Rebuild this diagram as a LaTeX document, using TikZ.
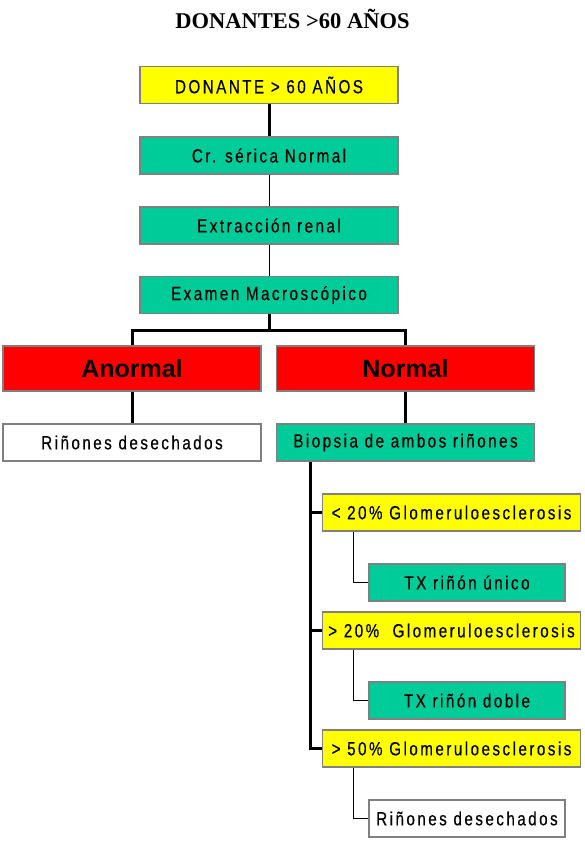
\documentclass[tikz,border=0pt]{standalone}
\usepackage{fontspec}
\setmainfont{Liberation Sans}
\newfontfamily\boxfont[FakeStretch=0.8,LetterSpace=13,FakeBold=0.4]{Liberation Sans}
\newfontfamily\titlefont{Liberation Serif}
\definecolor{yel}{RGB}{255,255,0}
\definecolor{grn}{RGB}{0,204,153}
\definecolor{rd}{RGB}{255,0,0}
\definecolor{bord}{RGB}{128,128,128}
\begin{document}
\begin{tikzpicture}[x=1pt,y=-1pt,
  box/.style={draw=bord,line width=1.2pt,minimum height=37pt,inner sep=0pt,
    font=\boxfont\fontsize{19}{22}\selectfont},
  wide/.style={box,minimum width=258pt},
  small/.style={box,minimum width=196pt},
  ybox/.style={fill=yel},
  gbox/.style={fill=grn},
  wbox/.style={fill=white},
  rbox/.style={draw=bord,line width=1.2pt,fill=rd,minimum width=258pt,minimum height=45pt,
    inner sep=0pt,font=\bfseries\fontsize{25}{28}\selectfont},
  thickline/.style={line width=3pt},
  thinline/.style={line width=1pt}]
\useasboundingbox (0,0) rectangle (584,841);
\node[font=\titlefont\bfseries\fontsize{22.5}{26}\selectfont] (title) at (292.5,19) {DONANTES >60 AÑOS};
\node[wide,ybox] (d60) at (269,85) {DONANTE > 60 AÑOS};
\node[wide,gbox] (cr) at (269,155.5) {Cr. sérica Normal};
\node[wide,gbox] (ext) at (269,225.5) {Extracción renal};
\node[wide,gbox] (exa) at (269,295) {Examen Macroscópico};
\node[rbox] (anor) at (132,368.5) {Anormal};
\node[rbox] (norm) at (405.5,368.5) {Normal};
\node[wide,wbox] (rin1) at (132,442.5) {Riñones desechados};
\node[wide,gbox] (bio) at (405.5,442.5) {Biopsia de ambos riñones};
\node[wide,ybox] (g1) at (451.5,512.5) {< 20\% Glomeruloesclerosis};
\node[small,gbox] (tx1) at (467,582.5) {TX riñón único};
\node[wide,ybox] (g2) at (451.5,630.5) {> 20\%\ \ Glomeruloesclerosis};
\node[small,gbox] (tx2) at (467,700.5) {TX riñón doble};
\node[wide,ybox] (g3) at (451.5,748.5) {> 50\% Glomeruloesclerosis};
\node[small,wbox] (rin2) at (467,818.5) {Riñones desechados};
\coordinate (br) at (269,330);
\coordinate (vx) at (310,0);
\draw[thickline] (d60.south) -- (cr.north);
\draw[thinline] (cr.south) -- (ext.north);
\draw[thinline] (ext.south) -- (exa.north);
\draw[thickline] (exa.south) -- (br);
\draw[thickline] (anor.north) |- (br) -| (norm.north);
\draw[thickline] (anor.south) -- (rin1.north);
\draw[thickline] (norm.south) -- (bio.north);
\draw[thickline] (bio.south -| vx) |- (g3.west);
\draw[thickline] (vx |- g1.west) -- (g1.west);
\draw[thickline] (vx |- g2.west) -- (g2.west);
\draw[thinline] ([xshift=-15pt]tx1.west |- g1.south) |- (tx1.west);
\draw[thinline] ([xshift=-15pt]tx2.west |- g2.south) |- (tx2.west);
\draw[thinline] ([xshift=-15pt]rin2.west |- g3.south) |- (rin2.west);
\end{tikzpicture}
\end{document}
